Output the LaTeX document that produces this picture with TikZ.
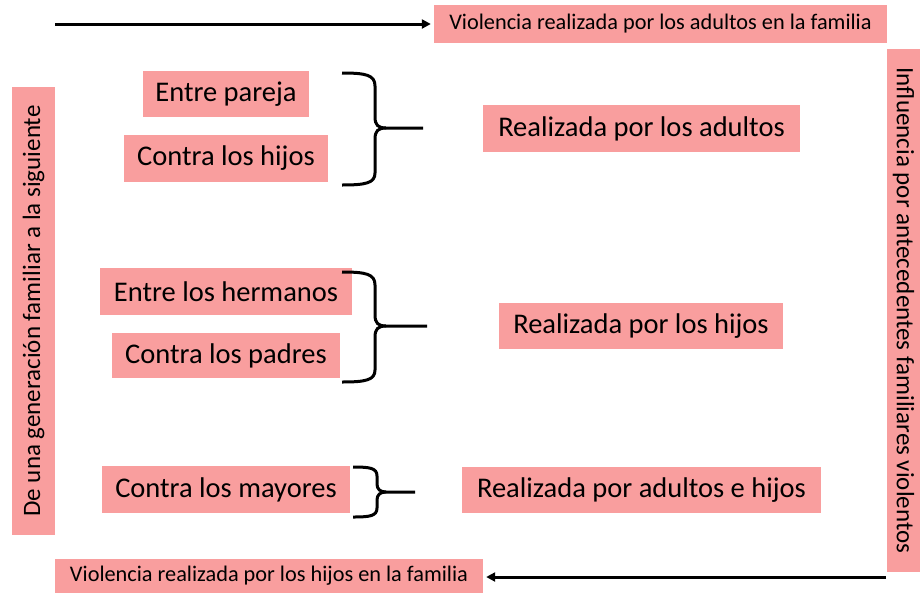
\documentclass[tikz,border=0pt]{standalone}
\usepackage{fontspec}
\setmainfont{Carlito}
\usetikzlibrary{arrows.meta}
\definecolor{pinkbox}{RGB}{249,158,158}
\tikzset{
  box/.style={fill=pinkbox, draw=none, inner sep=0pt, align=center, text=black},
  big/.style={box, font=\fontsize{28.5}{30}\selectfont},
  small/.style={box, font=\fontsize{22.3}{24}\selectfont},
  side/.style={box, font=\fontsize{25}{27}\selectfont},
  brace/.style={line width=3pt, draw=black, line cap=butt},
  flow/.style={line width=3pt, -{Triangle[length=9pt,width=9pt]}}
}
\begin{document}
\begin{tikzpicture}[x=1pt,y=-1pt]
\useasboundingbox (0,0) rectangle (920,592);
\fill[white] (0,0) rectangle (920,592);

\node[small, minimum width=453pt, minimum height=38pt] (top) at (660.5,24) {Violencia realizada por los adultos en la familia};
\node[small, minimum width=428pt, minimum height=34pt] (bot) at (269,576) {Violencia realizada por los hijos en la familia};
\node[side, rotate=90, minimum width=448pt, minimum height=43pt] (left) at (33.5,311) {De una generación familiar a la siguiente};
\node[side, rotate=-90, minimum width=523pt, minimum height=33pt] (right) at (903.5,310.5) {Influencia por antecedentes familiares violentos};

\node[big, minimum width=166pt, minimum height=46pt] (pareja) at (226,94) {Entre pareja};
\node[big, minimum width=204pt, minimum height=47pt] (hijos) at (226,158.5) {Contra los hijos};
\node[big, minimum width=317pt, minimum height=47pt] (adultos) at (641.5,128.5) {Realizada por los adultos};

\node[big, minimum width=252pt, minimum height=47pt] (hermanos) at (226,291.5) {Entre los hermanos};
\node[big, minimum width=228pt, minimum height=45pt] (padres) at (226,355.5) {Contra los padres};
\node[big, minimum width=284pt, minimum height=46pt] (rhijos) at (641,326) {Realizada por los hijos};

\node[big, minimum width=248pt, minimum height=47pt] (mayores) at (226,489.5) {Contra los mayores};
\node[big, minimum width=359pt, minimum height=46pt] (ambos) at (641.5,490) {Realizada por adultos e hijos};

% arrows
\coordinate (ts) at (55,24);
\coordinate (bs) at (886,577);
\draw[flow, shorten >=3pt] (ts) -- (top.west |- ts);
\draw[flow, shorten >=3pt] (bs) -- (bot.east |- bs);

% braces
\draw[brace] (342,73) .. controls (366,73) and (375,75) .. (375,86) -- (375,117)
  .. controls (375,125) and (378,128) .. (386,128) -- (423,128);
\draw[brace] (386,128) .. controls (378,128) and (375,131) .. (375,139) -- (375,173)
  .. controls (375,183) and (366,185) .. (342,185);

\draw[brace] (342,272) .. controls (366,272) and (375,274) .. (375,285) -- (375,315)
  .. controls (375,323) and (378,326) .. (386,326) -- (427,326);
\draw[brace] (386,326) .. controls (378,326) and (375,329) .. (375,337) -- (375,370)
  .. controls (375,380) and (366,382) .. (342,382);

\draw[brace] (353,467) .. controls (370,467) and (377,468) .. (377,476) -- (377,484)
  .. controls (377,489) and (380,492) .. (386,492) -- (415,492);
\draw[brace] (386,492) .. controls (380,492) and (377,495) .. (377,500) -- (377,508)
  .. controls (377,516) and (370,517) .. (353,517);
\end{tikzpicture}
\end{document}
